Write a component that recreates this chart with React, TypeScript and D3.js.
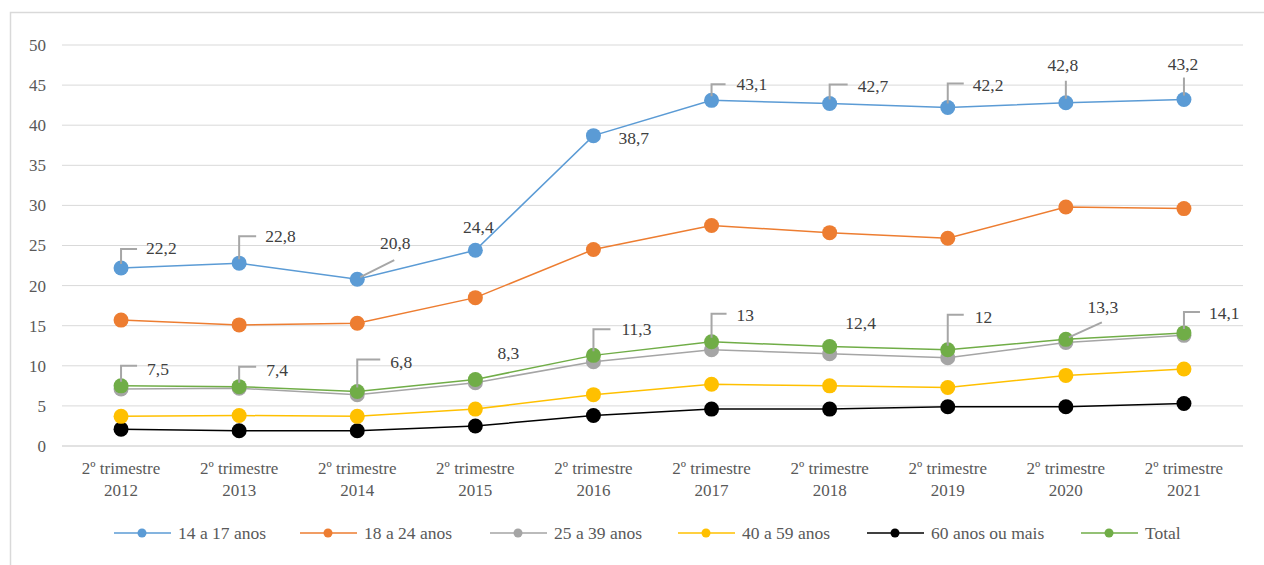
import React from "react";
import * as d3 from "d3";

// Proporção (%) por faixa etária, 2º trimestre de cada ano
const periods = ["2012", "2013", "2014", "2015", "2016", "2017", "2018", "2019", "2020", "2021"];
const seriesNames = ["14 a 17 anos", "18 a 24 anos", "25 a 39 anos", "40 a 59 anos", "60 anos ou mais", "Total"];
const seriesColors = ["#5B9BD5", "#ED7D31", "#A5A5A5", "#FFC000", "#000000", "#70AD47"];

const v14a17 = [22.2, 22.8, 20.8, 24.4, 38.7, 43.1, 42.7, 42.2, 42.8, 43.2];
const v18a24 = [15.7, 15.1, 15.3, 18.5, 24.5, 27.5, 26.6, 25.9, 29.8, 29.6];
const v25a39 = [7.1, 7.2, 6.4, 7.9, 10.5, 12.0, 11.5, 11.0, 12.9, 13.8];
const v40a59 = [3.7, 3.8, 3.7, 4.6, 6.4, 7.7, 7.5, 7.3, 8.8, 9.6];
const v60mais = [2.1, 1.9, 1.9, 2.5, 3.8, 4.6, 4.6, 4.9, 4.9, 5.3];
const vTotal = [7.5, 7.4, 6.8, 8.3, 11.3, 13, 12.4, 12, 13.3, 14.1];

const yTicks = [0, 5, 10, 15, 20, 25, 30, 35, 40, 45, 50];

// Label placement per point: kind "b" = bent leader (up then right), "d" = diagonal leader,
// "v" = vertical leader with text above, "n" = no leader. dx/dy locate the text.
type LabelPos = { kind: string; h?: number; w?: number; dx: number; dy: number; anchor: string };
const labelLayout14a17: LabelPos[] = [
  { kind: "b", h: 19, w: 16, dx: 25, dy: -20, anchor: "start" },
  { kind: "b", h: 27, w: 17, dx: 26, dy: -27, anchor: "start" },
  { kind: "d", h: 19, w: 37, dx: 38, dy: -36, anchor: "middle" },
  { kind: "n", dx: 3, dy: -23, anchor: "middle" },
  { kind: "n", dx: 25, dy: 2, anchor: "start" },
  { kind: "b", h: 16, w: 14, dx: 25, dy: -16, anchor: "start" },
  { kind: "b", h: 19, w: 18, dx: 28, dy: -18, anchor: "start" },
  { kind: "b", h: 24, w: 16, dx: 25, dy: -23, anchor: "start" },
  { kind: "v", h: 22, dx: -3, dy: -38, anchor: "middle" },
  { kind: "v", h: 22, dx: -1, dy: -36, anchor: "middle" },
];
const labelLayoutTotal: LabelPos[] = [
  { kind: "b", h: 20, w: 16, dx: 26, dy: -17, anchor: "start" },
  { kind: "b", h: 20, w: 17, dx: 27, dy: -17, anchor: "start" },
  { kind: "b", h: 32, w: 23, dx: 33, dy: -30, anchor: "start" },
  { kind: "n", dx: 33, dy: -27, anchor: "middle" },
  { kind: "b", h: 26, w: 17, dx: 28, dy: -26, anchor: "start" },
  { kind: "b", h: 28, w: 15, dx: 25, dy: -27, anchor: "start" },
  { kind: "n", dx: 31, dy: -24, anchor: "middle" },
  { kind: "b", h: 35, w: 16, dx: 27, dy: -33, anchor: "start" },
  { kind: "d", h: 17, w: 36, dx: 37, dy: -32, anchor: "middle" },
  { kind: "b", h: 21, w: 16, dx: 25, dy: -20, anchor: "start" },
];

const W = 1264;
const H = 565;
const FONT = "Liberation Serif";
const TEXT = "#595959";
const LABEL_TEXT = "#404040";
const GRID = "#D9D9D9";
const LEADER = "#A6A6A6";

const fmt = (v: number) => String(v).replace(".", ",");

export default function App() {
  const allSeries = [v14a17, v18a24, v25a39, v40a59, v60mais, vTotal];
  const x = d3.scaleBand<string>().domain(periods).range([62, 1243]);
  const y = d3.scaleLinear().domain([0, 50]).range([446, 45]);
  const cx = (i: number) => (x(periods[i]) as number) + x.bandwidth() / 2;
  const line = d3
    .line<number>()
    .x((_, i) => cx(i))
    .y((d) => y(d));

  const renderLabels = (vals: number[], layout: LabelPos[], key: string) =>
    vals.map((v, i) => {
      const px = cx(i);
      const py = y(v);
      const L = layout[i];
      let leader: React.ReactNode = null;
      if (L.kind === "b") {
        leader = (
          <path
            d={`M${px},${py - 4}V${py - (L.h as number)}H${px + (L.w as number)}`}
            fill="none"
            stroke={LEADER}
            strokeWidth={2}
          />
        );
      } else if (L.kind === "d") {
        leader = (
          <line x1={px + 3} y1={py - 2} x2={px + (L.w as number)} y2={py - (L.h as number)} stroke={LEADER} strokeWidth={2} />
        );
      } else if (L.kind === "v") {
        leader = <line x1={px} y1={py - 4} x2={px} y2={py - (L.h as number)} stroke={LEADER} strokeWidth={2} />;
      }
      return (
        <g key={`${key}-${i}`}>
          {leader}
          <text
            x={px + L.dx}
            y={py + L.dy}
            dy="0.35em"
            textAnchor={L.anchor}
            fontSize={17.5}
            fontFamily={FONT}
            fill={LABEL_TEXT}
          >
            {fmt(v)}
          </text>
        </g>
      );
    });

  const legendX = [114, 300, 490, 678, 867, 1081];

  return (
    <div style={{ position: "absolute", left: 0, top: 0 }}>
      <svg width={W} height={H} style={{ display: "block" }}>
        <rect x={0} y={0} width={W} height={H} fill="#fff" />
        <rect x={10.5} y={12.5} width={1400} height={700} fill="none" stroke={GRID} strokeWidth={1.5} />

        {/* horizontal gridlines and value axis */}
        {yTicks.map((t) => (
          <g key={t}>
            <line x1={62} x2={1243} y1={y(t)} y2={y(t)} stroke={GRID} strokeWidth={t === 0 ? 1.5 : 1} />
            <text x={46} y={y(t)} dy="0.35em" textAnchor="end" fontSize={17} fontFamily={FONT} fill={TEXT}>
              {t}
            </text>
          </g>
        ))}

        {/* category labels */}
        {periods.map((p, i) => (
          <text key={p} x={cx(i)} textAnchor="middle" fontSize={17} fontFamily={FONT} fill={TEXT}>
            <tspan x={cx(i)} y={474}>2º trimestre</tspan>
            <tspan x={cx(i)} y={496}>{p}</tspan>
          </text>
        ))}

        {/* lines with markers, drawn bottom series first so that Total sits on top */}
        {[4, 3, 2, 1, 0, 5].map((si) => (
          <g key={seriesNames[si]}>
            <path d={line(allSeries[si]) as string} fill="none" stroke={seriesColors[si]} strokeWidth={1.5} />
            {allSeries[si].map((v, i) => (
              <circle key={i} cx={cx(i)} cy={y(v)} r={7.5} fill={seriesColors[si]} />
            ))}
          </g>
        ))}

        {renderLabels(v14a17, labelLayout14a17, "a")}
        {renderLabels(vTotal, labelLayoutTotal, "t")}

        {/* legend */}
        {seriesNames.map((n, i) => (
          <g key={n} transform={`translate(${legendX[i]},533)`}>
            <line x1={0} x2={57} y1={0} y2={0} stroke={seriesColors[i]} strokeWidth={1.5} />
            <circle cx={28} cy={0} r={4.5} fill={seriesColors[i]} />
            <text x={64} y={0} dy="0.35em" fontSize={17.5} fontFamily={FONT} fill={TEXT}>
              {n}
            </text>
          </g>
        ))}
      </svg>
    </div>
  );
}
